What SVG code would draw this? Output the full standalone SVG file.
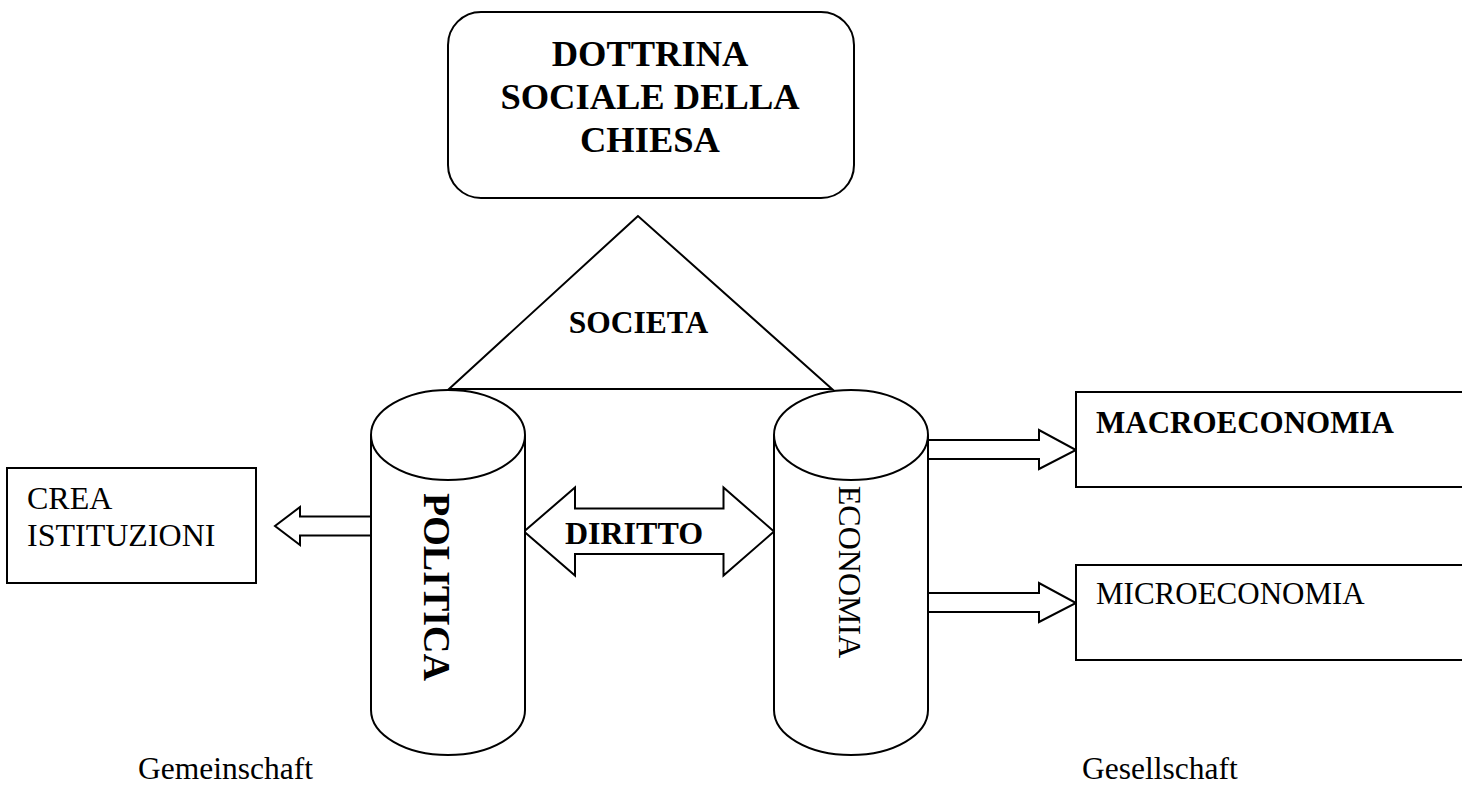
<svg xmlns="http://www.w3.org/2000/svg" width="1462" height="786" viewBox="0 0 1462 786">
<style>
.s{fill:#fff;stroke:#000;stroke-width:2}
.o{fill:none;stroke:#000;stroke-width:2}
text{font-family:"Liberation Serif","Times New Roman",serif;fill:#000}
.b{font-weight:bold}
</style>
<rect width="1462" height="786" fill="#fff"/>
<g id="dottrina">
<rect class="s" x="448" y="12" width="406" height="186" rx="33" ry="33"/>
<text class="b" font-size="36.5" text-anchor="middle"><tspan x="650" y="66">DOTTRINA</tspan><tspan x="650" y="109">SOCIALE DELLA</tspan><tspan x="650" y="152">CHIESA</tspan></text>
</g>
<g id="societa">
<polygon class="s" points="638,216 449,389 832,389"/>
<text class="b" font-size="31.5" x="638.5" y="333" text-anchor="middle">SOCIETA</text>
</g>
<g id="connectors">
<polygon class="s" points="371,516.5 300,516.5 300,507 275,526 300,545 300,535.5 371,535.5"/>
<polygon class="s" points="524,531.5 575,487.5 575,508.5 723.5,508.5 723.5,487.5 774,531.5 723.5,575.5 723.5,554 575,554 575,575.5"/>
<polygon class="s" points="927,440 1039,440 1039,430 1076,450 1039,469 1039,459 927,459"/>
<polygon class="s" points="927,593 1039,593 1039,583 1076,603 1039,622 1039,612 927,612"/>
<text class="b" font-size="32" x="634" y="544" text-anchor="middle">DIRITTO</text>
</g>
<g id="politica">
<path class="s" d="M371,435 L371,710 A77,45 0 0 0 525,710 L525,435"/>
<ellipse class="s" cx="448" cy="435" rx="77" ry="45"/>
<text class="b" font-size="38" text-anchor="middle" transform="translate(424,587) rotate(90)">POLITICA</text>
</g>
<g id="economia">
<path class="s" d="M774,435 L774,710 A77,45 0 0 0 928,710 L928,435"/>
<ellipse class="s" cx="851" cy="435" rx="77" ry="45"/>
<text font-size="32" text-anchor="middle" transform="translate(839,572) rotate(90)">ECONOMIA</text>
</g>
<g id="crea">
<rect class="s" x="7" y="468" width="249" height="115"/>
<text font-size="32"><tspan x="27" y="509">CREA</tspan><tspan x="27" y="546">ISTITUZIONI</tspan></text>
</g>
<g id="macro">
<rect class="s" x="1076" y="392" width="400" height="95"/>
<text class="b" font-size="31" x="1096" y="433">MACROECONOMIA</text>
</g>
<g id="micro">
<rect class="s" x="1076" y="565" width="400" height="95"/>
<text font-size="31" x="1096" y="604">MICROECONOMIA</text>
</g>
<g id="gemeinschaft">
<text font-size="31.5" x="138" y="779">Gemeinschaft</text>
</g>
<g id="gesellschaft">
<text font-size="31.5" x="1082" y="779">Gesellschaft</text>
</g>
</svg>
